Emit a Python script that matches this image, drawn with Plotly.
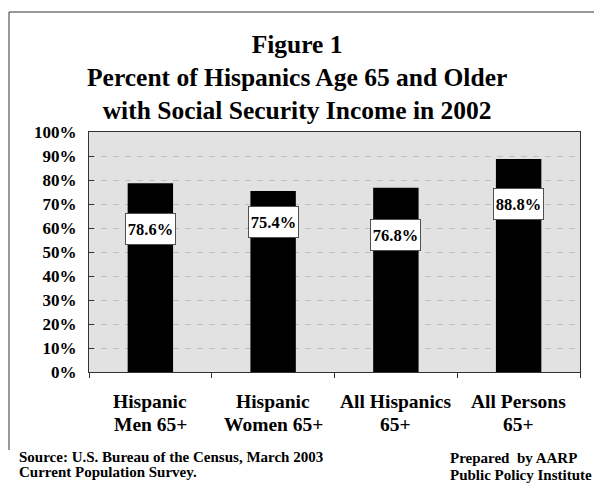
import plotly.graph_objects as go

# Social Security income receipt, persons 65+, 2002
categories = ["Hispanic Men 65+", "Hispanic Women 65+", "All Hispanics 65+", "All Persons 65+"]
label_line1 = ["Hispanic", "Hispanic", "All Hispanics", "All Persons"]
label_line2 = ["Men 65+", "Women 65+", "65+", "65+"]
percent_ss = [78.6, 75.4, 76.8, 88.8]
# vertical placement of each value box (in % units on the y axis)
label_y = [59.6, 62.3, 57.1, 70.0]

SERIF = "Liberation Serif"
W, H = 594, 483
ML, MR, MT, MB = 89, 14, 132, 111
PW, PH = W - ML - MR, H - MT - MB


def px_x(px):
    return (px - ML) / PW


def px_y(py):
    return (H - MB - py) / PH


fig = go.Figure()
fig.add_trace(go.Bar(
    x=categories, y=percent_ss, width=0.37,
    marker=dict(color="black", line=dict(width=0)),
    hoverinfo="skip", showlegend=False,
))

annotations = []
for cat, v, ly in zip(categories, percent_ss, label_y):
    annotations.append(dict(
        x=cat, y=ly, xref="x", yref="y", text=f"{v:.1f}%", showarrow=False,
        font=dict(family=SERIF, size=16.5, color="black", weight="bold"),
        bgcolor="white", bordercolor="#505050", borderwidth=1, borderpad=1,
        width=47, height=28, align="center", valign="middle",
    ))

for cat, l1, l2 in zip(categories, label_line1, label_line2):
    for text, py in ((l1, 401.5), (l2, 424.5)):
        annotations.append(dict(
            x=cat, y=px_y(py), xref="x", yref="paper", text=text, showarrow=False,
            xanchor="center", yanchor="middle",
            font=dict(family=SERIF, size=19.5, color="black", weight="bold"),
        ))

annotations.append(dict(
    x=px_x(297), y=px_y(78), xref="paper", yref="paper", showarrow=False,
    xanchor="center", yanchor="middle", align="center",
    text="Figure 1<br>Percent of Hispanics Age 65 and Older<br>with Social Security Income in 2002",
    font=dict(family=SERIF, size=25.5, color="black", weight="bold"),
))

footer = [
    ("Source: U.S. Bureau of the Census, March 2003", 17, 457),
    ("Current Population Survey.", 17, 472),
    ("Prepared  by AARP", 448, 458),
    ("Public Policy Institute", 448, 475),
]
for text, x0, yc in footer:
    annotations.append(dict(
        x=px_x(x0), y=px_y(yc), xref="paper", yref="paper", text=text, showarrow=False,
        xanchor="left", yanchor="middle",
        font=dict(family=SERIF, size=15, color="black", weight="bold"),
    ))

shapes = [
    # outer frame (top and left edges)
    dict(type="line", xref="paper", yref="paper", x0=px_x(9), x1=px_x(600),
         y0=px_y(12), y1=px_y(12), line=dict(color="#333333", width=1)),
    dict(type="line", xref="paper", yref="paper", x0=px_x(9), x1=px_x(9),
         y0=px_y(12), y1=px_y(450), line=dict(color="#333333", width=1)),
]

fig.update_layout(
    width=W, height=H,
    margin=dict(l=ML, r=MR, t=MT, b=MB, pad=0),
    paper_bgcolor="white", plot_bgcolor="#e2e2e2",
    bargap=0.63,
    annotations=annotations, shapes=shapes,
    showlegend=False,
)
fig.update_xaxes(
    type="category", range=[-0.5, 3.5], showticklabels=False,
    tickson="boundaries", ticks="outside", ticklen=5, tickcolor="#333333",
    showline=True, linecolor="#333333", linewidth=1, mirror=True,
    showgrid=False, zeroline=False,
)
fig.update_yaxes(
    range=[0, 100], dtick=10, ticksuffix="%",
    tickfont=dict(family=SERIF, size=17, color="black", weight="bold"),
    ticks="inside", ticklen=5, tickcolor="#333333", ticklabelstandoff=8,
    showline=True, linecolor="#333333", linewidth=1, mirror=True,
    showgrid=True, gridcolor="#c2c2c2", griddash="6px,6px", gridwidth=1,
    zeroline=False,
)

fig.write_html("out.html")
